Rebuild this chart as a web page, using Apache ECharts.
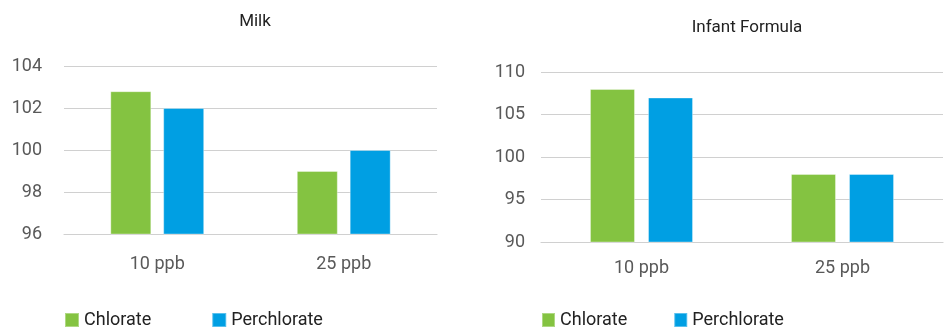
<!DOCTYPE html>
<html>
<head>
<meta charset="utf-8">
<script src="https://cdn.jsdelivr.net/npm/echarts@6/dist/echarts.min.js"></script>
<style>
  html, body { margin: 0; padding: 0; background: #ffffff; }
  #main { width: 951px; height: 331px; }
</style>
</head>
<body>
<div id="main"></div>
<script>
// categories + values
var categories = ['10 ppb', '25 ppb'];
var milkChlorate = [102.8, 99];
var milkPerchlorate = [102, 100];
var formulaChlorate = [108, 98];
var formulaPerchlorate = [107, 98];

var green = '#84c341';
var blue = '#009fe3';
var fontFam = 'Roboto, sans-serif';

function yAxis(idx, min, max, step, gap){
  return {
    type: 'value', gridIndex: idx, min: min, max: max, interval: step,
    axisLine: {show: false}, axisTick: {show: false},
    axisLabel: {color: '#595959', fontSize: 18, fontFamily: fontFam, margin: gap},
    splitLine: {lineStyle: {color: '#d0d0d0', width: 1.2}}
  };
}
function xAxis(idx, gap){
  return {
    type: 'category', gridIndex: idx, data: categories,
    axisLine: {lineStyle: {color: '#d0d0d0', width: 1.2}},
    axisTick: {show: false},
    axisLabel: {color: '#595959', fontSize: 18, fontFamily: fontFam, margin: gap}
  };
}
function bar(name, idx, data, color, w){
  return {
    name: name, type: 'bar', xAxisIndex: idx, yAxisIndex: idx, data: data,
    barWidth: w, barGap: '29%',
    itemStyle: {color: color, borderColor: 'rgba(255,255,255,0.35)', borderWidth: 1},
    silent: true
  };
}

var chart = echarts.init(document.getElementById('main'));
chart.setOption({
  backgroundColor: '#ffffff',
  animation: false,
  title: [
    {text: 'Milk', left: 250, top: 8, textAlign: 'center',
     textStyle: {fontSize: 17, fontWeight: 'normal', color: '#222', fontFamily: fontFam}},
    {text: 'Infant Formula', left: 742, top: 14, textAlign: 'center',
     textStyle: {fontSize: 17, fontWeight: 'normal', color: '#222', fontFamily: fontFam}}
  ],
  legend: [
    {left: 59, top: 306, itemWidth: 14, itemHeight: 14, itemGap: 60, icon: 'rect',
     data: ['Chlorate', 'Perchlorate'], selectedMode: false,
     textStyle: {fontSize: 18, color: '#222', fontFamily: fontFam}},
    {left: 536, top: 306, itemWidth: 13, itemHeight: 14, itemGap: 46, icon: 'rect',
     data: ['Chlorate', 'Perchlorate'], selectedMode: false,
     textStyle: {fontSize: 18, color: '#222', fontFamily: fontFam}}
  ],
  grid: [
    {left: 64, right: 514, top: 66, bottom: 97},
    {left: 541, right: 8, top: 72, bottom: 89}
  ],
  xAxis: [xAxis(0, 21), xAxis(1, 17)],
  yAxis: [yAxis(0, 96, 104, 2, 22), yAxis(1, 90, 110, 5, 16)],
  series: [
    bar('Chlorate', 0, milkChlorate, green, 41),
    bar('Perchlorate', 0, milkPerchlorate, blue, 41),
    bar('Chlorate', 1, formulaChlorate, green, 45),
    bar('Perchlorate', 1, formulaPerchlorate, blue, 45)
  ]
});
</script>
</body>
</html>
